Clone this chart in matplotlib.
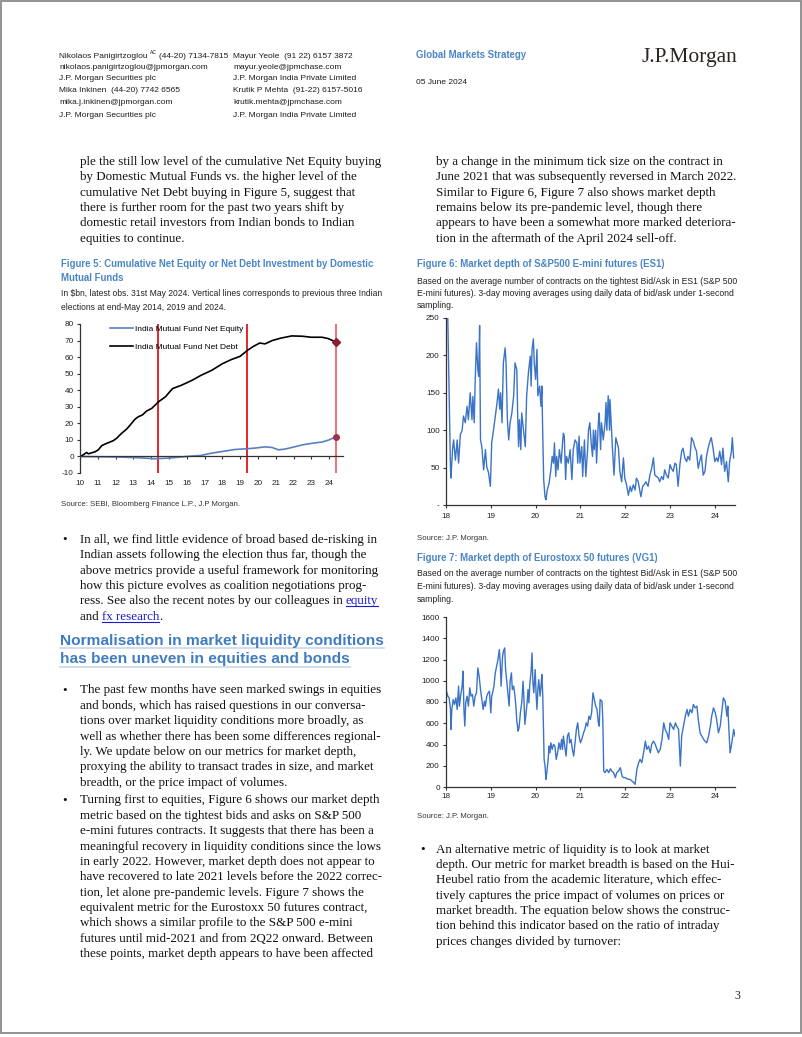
import matplotlib
matplotlib.use("Agg")
import matplotlib.pyplot as plt
from matplotlib import font_manager
from matplotlib.patches import Rectangle

# ---- data ----
# Figure 5: cumulative flows, $bn (x = year, 10 = 2010)
debt_x = [10.0, 10.19, 10.37, 10.47, 10.66, 10.84, 11.03, 11.22, 11.41, 11.59, 11.87, 12.06, 12.34,
          12.62, 12.9, 13.09, 13.28, 13.5, 13.75, 14.03, 14.22, 14.41, 14.8, 15.2, 15.7, 16.3, 16.8,
          17.4, 18.0, 18.5, 19.0, 19.4, 19.75, 20.1, 20.4, 20.8, 21.3, 21.9, 22.5, 23.0, 23.6, 23.95, 24.4]
debt_y = [0, 1, 2.4, 1.6, 2.2, 2.8, 4, 6.5, 7.5, 8.3, 9.5, 11, 14,
          16.5, 20, 22.5, 24, 25, 27.5, 29, 31, 33, 36, 41, 43, 46, 49,
          52, 56, 58.5, 60.5, 64, 66.5, 68.5, 68, 70, 71.5, 72.8, 72.6, 72, 72, 71.2, 69]
equity_x = [10.0, 11.0, 12.3, 13.3, 14.2, 15.0, 15.5, 16.0, 16.8, 17.4, 18.0, 18.7, 19.3, 19.8,
            20.4, 20.8, 21.15, 21.5, 21.9, 22.5, 23.0, 23.6, 24.0, 24.4]
equity_y = [0, -0.2, -0.4, -0.8, -1.4, -1.0, -0.5, 0, 0.6, 2, 3, 4.2, 4.6, 5,
            5.8, 5.4, 4, 4.4, 5.4, 7, 7.9, 8.7, 10, 12]
election_years = [14.4, 19.4, 24.4]
fig5_ticks = list(range(10, 25))

# Figure 6: ES1 market depth (contracts)
es1_x = [18.04, 18.10, 18.11, 18.15, 18.17, 18.21, 18.25, 18.28, 18.32, 18.36, 18.39, 18.43, 18.47, 18.50,
         18.54, 18.58, 18.60, 18.63, 18.65, 18.68, 18.71, 18.73, 18.75, 18.77, 18.80, 18.84, 18.88, 18.91,
         18.95, 18.99, 19.02, 19.06, 19.10, 19.14, 19.17, 19.20, 19.22, 19.25, 19.28, 19.32, 19.34, 19.37,
         19.40, 19.43, 19.47, 19.51, 19.54, 19.58, 19.60, 19.62, 19.64, 19.67, 19.69, 19.73, 19.77, 19.80,
         19.84, 19.88, 19.90, 19.92, 19.95, 19.97, 20.00, 20.03, 20.05, 20.09, 20.12, 20.14, 20.16, 20.18,
         20.21, 20.23, 20.26, 20.30, 20.34, 20.37, 20.40, 20.42, 20.45, 20.47, 20.50, 20.53, 20.57, 20.60,
         20.62, 20.64, 20.67, 20.69, 20.73, 20.77, 20.81, 20.84, 20.88, 20.92, 20.94, 20.97, 20.99, 21.03,
         21.05, 21.09, 21.12, 21.16, 21.18, 21.21, 21.24, 21.27, 21.29, 21.31, 21.34, 21.36, 21.40, 21.42,
         21.45, 21.47, 21.51, 21.55, 21.57, 21.59, 21.62, 21.65, 21.66, 21.71, 21.75, 21.79, 21.85, 21.88,
         21.92, 21.96, 21.99, 22.03, 22.07, 22.11, 22.14, 22.18, 22.22, 22.25, 22.29, 22.33, 22.35, 22.39,
         22.42, 22.46, 22.51, 22.55, 22.59, 22.63, 22.66, 22.70, 22.74, 22.77, 22.81, 22.85, 22.88, 22.92,
         22.96, 23.00, 23.03, 23.07, 23.11, 23.14, 23.18, 23.22, 23.26, 23.29, 23.33, 23.37, 23.40, 23.44,
         23.48, 23.52, 23.55, 23.59, 23.63, 23.66, 23.70, 23.74, 23.78, 23.81, 23.85, 23.89, 23.92, 23.96,
         24.00, 24.04, 24.07, 24.11, 24.15, 24.18, 24.22, 24.26, 24.30, 24.33, 24.37, 24.39, 24.42]
es1_y = [250, 47, 36, 78, 87, 60, 87, 56, 94, 100, 119, 110, 132, 114,
         150, 114, 145, 110, 163, 217, 181, 172, 240, 87, 78, 47, 74, 51,
         43, 25, 83, 100, 119, 137, 155, 128, 150, 110, 190, 210, 190, 114,
         87, 110, 123, 146, 190, 181, 119, 78, 114, 74, 123, 100, 78, 146,
         177, 199, 159, 208, 222, 190, 168, 208, 146, 159, 132, 159, 92, 34,
         11, 7, 20, 29, 47, 65, 56, 83, 38, 65, 47, 74, 56, 83,
         96, 92, 34, 65, 56, 74, 34, 74, 87, 83, 56, 92, 56, 78,
         38, 87, 38, 74, 100, 110, 83, 65, 100, 74, 100, 56, 110, 123,
         74, 110, 87, 110, 137, 100, 146, 100, 141, 81, 40, 90, 76, 45,
         31, 63, 36, 27, 13, 25, 18, 27, 20, 36, 31, 18, 11, 25,
         27, 31, 25, 40, 49, 63, 40, 38, 36, 31, 38, 34, 47, 40,
         36, 54, 49, 45, 56, 54, 25, 54, 72, 76, 63, 58, 65, 60,
         90, 85, 78, 72, 49, 58, 67, 40, 45, 63, 76, 85, 90, 76,
         58, 63, 58, 72, 54, 76, 45, 58, 31, 58, 72, 90, 63]
es1_yticks = [0, 50, 100, 150, 200, 250]
es1_yticklabels = ["-", "50", "100", "150", "200", "250"]

# Figure 7: VG1 market depth (contracts)
vg1_x = [18.00, 18.02, 18.04, 18.07, 18.10, 18.11, 18.13, 18.16, 18.19, 18.22, 18.25, 18.28, 18.30, 18.33,
         18.36, 18.38, 18.40, 18.42, 18.44, 18.47, 18.50, 18.53, 18.56, 18.59, 18.62, 18.65, 18.68, 18.71,
         18.74, 18.77, 18.80, 18.83, 18.86, 18.88, 18.91, 18.94, 18.97, 19.00, 19.02, 19.04, 19.07, 19.10,
         19.13, 19.16, 19.19, 19.21, 19.23, 19.26, 19.28, 19.31, 19.33, 19.36, 19.38, 19.41, 19.43, 19.46,
         19.48, 19.51, 19.54, 19.56, 19.58, 19.61, 19.63, 19.66, 19.69, 19.72, 19.74, 19.76, 19.78, 19.81,
         19.83, 19.85, 19.87, 19.90, 19.92, 19.94, 19.96, 19.99, 20.01, 20.03, 20.05, 20.07, 20.10, 20.12,
         20.14, 20.16, 20.19, 20.21, 20.23, 20.25, 20.28, 20.30, 20.32, 20.34, 20.37, 20.40, 20.43, 20.46,
         20.49, 20.52, 20.55, 20.58, 20.60, 20.62, 20.65, 20.68, 20.71, 20.74, 20.76, 20.79, 20.82, 20.85,
         20.88, 20.91, 20.94, 20.97, 21.00, 21.03, 21.07, 21.10, 21.13, 21.16, 21.19, 21.22, 21.25, 21.28,
         21.31, 21.34, 21.37, 21.40, 21.42, 21.44, 21.48, 21.50, 21.52, 21.55, 21.59, 21.63, 21.67, 21.70,
         21.74, 21.78, 21.81, 21.85, 21.89, 21.93, 21.96, 22.00, 22.04, 22.07, 22.11, 22.15, 22.19, 22.22,
         22.26, 22.30, 22.33, 22.37, 22.41, 22.45, 22.48, 22.52, 22.56, 22.59, 22.63, 22.67, 22.71, 22.74,
         22.78, 22.82, 22.86, 22.89, 22.93, 22.97, 23.00, 23.04, 23.08, 23.12, 23.15, 23.19, 23.23, 23.26,
         23.30, 23.34, 23.38, 23.41, 23.45, 23.49, 23.52, 23.56, 23.60, 23.63, 23.67, 23.71, 23.75, 23.78,
         23.82, 23.86, 23.90, 23.93, 23.97, 24.01, 24.04, 24.08, 24.12, 24.16, 24.19, 24.23, 24.27, 24.29,
         24.31, 24.34, 24.38, 24.42, 24.45]
vg1_y = [917, 886, 855, 839, 730, 542, 730, 823, 777, 839, 730, 949, 761, 870,
         949, 1090, 730, 573, 792, 855, 761, 933, 855, 870, 761, 855, 886, 1121,
         1043, 917, 823, 730, 808, 761, 855, 886, 902, 698, 855, 886, 949, 1074,
         1136, 1199, 1293, 1168, 949, 1215, 1277, 1309, 1105, 980, 886, 761, 996, 1074,
         917, 949, 855, 761, 620, 526, 557, 698, 792, 996, 823, 589, 667, 792,
         917, 792, 964, 1090, 1262, 980, 886, 1105, 886, 730, 917, 1011, 855, 949,
         1058, 855, 260, 197, 72, 135, 260, 385, 322, 416, 354, 401, 385, 260,
         322, 416, 354, 448, 354, 479, 385, 291, 479, 510, 416, 448, 354, 291,
         416, 542, 604, 479, 416, 448, 510, 542, 604, 573, 667, 636, 698, 886,
         823, 761, 730, 604, 573, 823, 808, 636, 150, 135, 166, 135, 172, 150,
         135, 88, 135, 150, 182, 103, 88, 88, 78, 72, 72, 56, 41, 25,
         166, 229, 260, 229, 322, 432, 354, 385, 322, 401, 432, 401, 354, 322,
         354, 448, 604, 542, 510, 448, 604, 573, 542, 604, 573, 542, 197, 479,
         573, 667, 730, 667, 730, 698, 777, 745, 761, 636, 510, 479, 448, 432,
         416, 479, 573, 667, 745, 698, 636, 510, 573, 730, 839, 808, 667, 761,
         573, 322, 416, 542, 479]
vg1_yticks = [0, 200, 400, 600, 800, 1000, 1200, 1400, 1600]
year_ticks = [18, 19, 20, 21, 22, 23, 24]

# ---- fonts / colours ----
installed = {f.name for f in font_manager.fontManager.ttflist}
HAS_NARROW = "Liberation Sans Narrow" in installed
NARROW = "Liberation Sans Narrow" if HAS_NARROW else "Liberation Sans"
k = 1.0 if HAS_NARROW else 0.82   # regular sans is wider, shrink to keep line widths
HDR, SUB, SRC = 7.4 * k, 7.6 * k, 6.8 * k
TITLE, GMS, TICK, LEG = 8.5 * k, 8.5 * k, 7.2 * k, 7.3 * k
SERIF = "Liberation Serif"
SANS = "Liberation Sans"
TITLE_BLUE = "#4a86c6"
LINE_BLUE = "#3b74c6"
INK = "#1c1c1c"

plt.rcParams["font.family"] = [NARROW, "DejaVu Sans"]
plt.rcParams["axes.unicode_minus"] = False

W, H = 802, 1037
fig = plt.figure(figsize=(W / 100, H / 100), dpi=100)
page = fig.add_axes([0, 0, 1, 1])
page.set_xlim(0, W)
page.set_ylim(H, 0)
page.axis("off")
renderer = fig.canvas.get_renderer()


def txt(x, y, s, size, family=NARROW, color=INK, weight="normal", **kw):
    return page.text(x, y, s, fontsize=size, family=family, color=color,
                     fontweight=weight, ha="left", va="baseline", **kw)


def width(t):
    return t.get_window_extent(renderer).width


def advance(s, size, family):
    # width of s including trailing blanks, measured with a sentinel glyph
    if not s:
        return 0
    a = txt(0, 0, s + "x", size, family=family)
    b = txt(0, 0, "x", size, family=family)
    w = width(a) - width(b)
    a.remove()
    b.remove()
    return w


def body(x, y0, lines, step=15.35, links=None):
    # ragged-right paragraph; links maps line index -> substring drawn as blue underlined link
    links = links or {}
    for i, line in enumerate(lines):
        y = y0 + i * step
        if i not in links:
            txt(x, y, line, 9.4, family=SERIF, color="#111111")
            continue
        sub = links[i]
        p = line.index(sub)
        head, tail = line[:p], line[p + len(sub):]
        if head:
            txt(x, y, head, 9.4, family=SERIF, color="#111111")
        x0 = x + advance(head, 9.4, SERIF)
        t = txt(x0, y, sub, 9.4, family=SERIF, color="#1a1acc")
        w = advance(sub, 9.4, SERIF)
        page.plot([x0, x0 + w], [y + 2, y + 2], color="#1a1acc", lw=0.8)
        if tail:
            txt(x0 + w, y, tail, 9.4, family=SERIF, color="#111111")


# ---- page frame ----
page.add_patch(Rectangle((0.8, 0.8), W - 1.6, 1032, fill=False, ec="#8a8a8a", lw=1.3))

# ---- header ----
hdr1 = ["nikolaos.panigirtzoglou@jpmorgan.com", "J.P. Morgan Securities plc",
        "Mika Inkinen  (44-20) 7742 6565", "mika.j.inkinen@jpmorgan.com", "J.P. Morgan Securities plc"]
hdr2 = ["Mayur Yeole  (91 22) 6157 3872", "mayur.yeole@jpmchase.com", "J.P. Morgan India Private Limited",
        "Krutik P Mehta  (91-22) 6157-5016", "krutik.mehta@jpmchase.com", "J.P. Morgan India Private Limited"]
hdr_y = [57.5, 68.8, 80.5, 92.5, 104.5, 117]
txt(59, hdr_y[0], "Nikolaos Panigirtzoglou", HDR)
cx = 59 + advance("Nikolaos Panigirtzoglou ", HDR, NARROW)
t = txt(cx, hdr_y[0] - 3, "AC", HDR * 0.6)
txt(cx + width(t) + 2, hdr_y[0], "(44-20) 7134-7815", HDR)
for yy, s in zip(hdr_y[1:], hdr1):
    txt(59, yy, s, HDR)
for yy, s in zip(hdr_y, hdr2):
    txt(233, yy, s, HDR)
txt(416, 57.5, "Global Markets Strategy", GMS, color=TITLE_BLUE, weight="bold")
txt(416, 83.5, "05 June 2024", HDR)
txt(641, 62, "J.P.Morgan", 15.5, family=SERIF, color="#2b2420")

# ---- left column text ----
body(80, 165, ["ple the still low level of the cumulative Net Equity buying",
               "by Domestic Mutual Funds vs. the higher level of the",
               "cumulative Net Debt buying in Figure 5, suggest that",
               "there is further room for the past two years shift by",
               "domestic retail investors from Indian bonds to Indian",
               "equities to continue."])

txt(61, 267, "Figure 5: Cumulative Net Equity or Net Debt Investment by Domestic", TITLE,
    color=TITLE_BLUE, weight="bold")
txt(61, 281, "Mutual Funds", TITLE, color=TITLE_BLUE, weight="bold")
txt(61, 296.5, "In $bn, latest obs. 31st May 2024. Vertical lines corresponds to previous three Indian",
    SUB * 0.99, color="#222222")
txt(61, 310, "elections at end-May 2014, 2019 and 2024.", SUB * 0.99, color="#222222")
txt(61, 506.5, "Source: SEBI, Bloomberg Finance L.P., J.P Morgan.", SRC, color="#333333")

for by in [543, 693.5, 803.5]:
    txt(62, by, "\u2022", 9.4, family=SERIF, color="#111111")
body(80, 543, ["In all, we find little evidence of broad based de-risking in",
               "Indian assets following the election thus far, though the",
               "above metrics provide a useful framework for monitoring",
               "how this picture evolves as coalition negotiations prog-",
               "ress. See also the recent notes by our colleagues in equity",
               "and fx research."], links={4: "equity", 5: "fx research"})

for hy, hs in [(644.5, "Normalisation in market liquidity conditions"),
               (663.5, "has been uneven in equities and bonds")]:
    t = txt(60, hy, hs, 11.15, family=SANS, color="#3f7cc0", weight="bold")
    page.plot([60, 60 + width(t)], [hy + 3.5, hy + 3.5], color="#c9d8ea", lw=1.2)

body(80, 693.5, ["The past few months have seen marked swings in equities",
                 "and bonds, which has raised questions in our conversa-",
                 "tions over market liquidity conditions more broadly, as",
                 "well as whether there has been some differences regional-",
                 "ly. We update below on our metrics for market depth,",
                 "proxying the ability to transact trades in size, and market",
                 "breadth, or the price impact of volumes."])
body(80, 803.5, ["Turning first to equities, Figure 6 shows our market depth",
                 "metric based on the tightest bids and asks on S&P 500",
                 "e-mini futures contracts. It suggests that there has been a",
                 "meaningful recovery in liquidity conditions since the lows",
                 "in early 2022. However, market depth does not appear to",
                 "have recovered to late 2021 levels before the 2022 correc-",
                 "tion, let alone pre-pandemic levels. Figure 7 shows the",
                 "equivalent metric for the Eurostoxx 50 futures contract,",
                 "which shows a similar profile to the S&P 500 e-mini",
                 "futures until mid-2021 and from 2Q22 onward. Between",
                 "these points, market depth appears to have been affected"])

# ---- right column text ----
body(436, 165, ["by a change in the minimum tick size on the contract in",
                "June 2021 that was subsequently reversed in March 2022.",
                "Similar to Figure 6, Figure 7 also shows market depth",
                "remains below its pre-pandemic level, though there",
                "appears to have been a somewhat more marked deteriora-",
                "tion in the aftermath of the April 2024 sell-off."])
sub = ["Based on the average number of contracts on the tightest Bid/Ask in ES1 (S&P 500",
       "E-mini futures). 3-day moving averages using daily data of bid/ask under 1-second",
       "sampling."]
txt(417, 267, "Figure 6: Market depth of S&P500 E-mini futures (ES1)", TITLE, color=TITLE_BLUE, weight="bold")
for yy, s in zip([284, 296.3, 308.5], sub):
    txt(417, yy, s, SUB, color="#222222")
txt(417, 539.5, "Source: J.P. Morgan.", SRC, color="#333333")
txt(417, 561, "Figure 7: Market depth of Eurostoxx 50 futures (VG1)", TITLE, color=TITLE_BLUE, weight="bold")
for yy, s in zip([576.5, 589, 601.5], sub):
    txt(417, yy, s, SUB, color="#222222")
txt(417, 818.5, "Source: J.P. Morgan.", SRC, color="#333333")

txt(420, 852.5, "\u2022", 9.4, family=SERIF, color="#111111")
body(436, 852.5, ["An alternative metric of liquidity is to look at market",
                  "depth. Our metric for market breadth is based on the Hui-",
                  "Heubel ratio from the academic literature, which effec-",
                  "tively captures the price impact of volumes on prices or",
                  "market breadth. The equation below shows the construc-",
                  "tion behind this indicator based on the ratio of intraday",
                  "prices changes divided by turnover:"])
txt(734, 999, "3", 8.5, family=SERIF, color="#222222")


# ---- charts ----
def px_axes(left, top, right, bottom):
    return fig.add_axes([left / W, 1 - bottom / H, (right - left) / W, (bottom - top) / H])


def style(ax):
    for s in ["top", "right"]:
        ax.spines[s].set_visible(False)
    for s in ["left", "bottom"]:
        ax.spines[s].set_color("#333333")
        ax.spines[s].set_linewidth(0.9)
    ax.tick_params(length=2.5, width=0.8, color="#333333", labelsize=TICK, labelcolor="#222222", pad=2)
    ax.patch.set_alpha(0)


ax5 = px_axes(80, 324, 343, 473)
style(ax5)
ax5.plot(equity_x, equity_y, color="#5a7fc0", lw=1.2, label="India Mutual Fund Net Equity")
ax5.plot(debt_x, debt_y, color="black", lw=1.2, label="India Mutual Fund Net Debt")
for i, ex in enumerate(election_years):
    ax5.axvline(ex, color="#e3262a", lw=1.4, alpha=0.65 if i == 2 else 1, zorder=1)
ax5.plot(debt_x[-1], debt_y[-1], marker="D", ms=4, color="#8c1d2e", zorder=5)
ax5.plot(equity_x[-1], equity_y[-1], marker="o", ms=4, color="#a03050", zorder=5)
ax5.set_xlim(10, 24.78)
ax5.set_ylim(-10, 80)
ax5.set_yticks(range(-10, 81, 10))
ax5.set_xticks(fig5_ticks)
ax5.spines["bottom"].set_position(("data", 0))
ax5.tick_params(axis="x", pad=14.5)
ax5.legend(loc="upper left", bbox_to_anchor=(0.115, 0.995), frameon=False, fontsize=LEG,
           handlelength=2.7, handletextpad=0.3, labelspacing=1.25, borderpad=0, borderaxespad=0)

ax6 = px_axes(446, 318, 735, 505)
style(ax6)
ax6.plot(es1_x, es1_y, color=LINE_BLUE, lw=1.0, clip_on=True)
ax6.set_xlim(18, 24.45)
ax6.set_ylim(0, 250)
ax6.set_yticks(es1_yticks)
ax6.set_yticklabels(es1_yticklabels)
ax6.set_xticks(year_ticks)
ax6.tick_params(axis="x", pad=3)

ax7 = px_axes(446, 617, 735, 787)
style(ax7)
ax7.plot(vg1_x, vg1_y, color=LINE_BLUE, lw=1.0)
ax7.set_xlim(18, 24.45)
ax7.set_ylim(0, 1600)
ax7.set_yticks(vg1_yticks)
ax7.set_xticks(year_ticks)

fig.savefig("out.png", dpi=100)
